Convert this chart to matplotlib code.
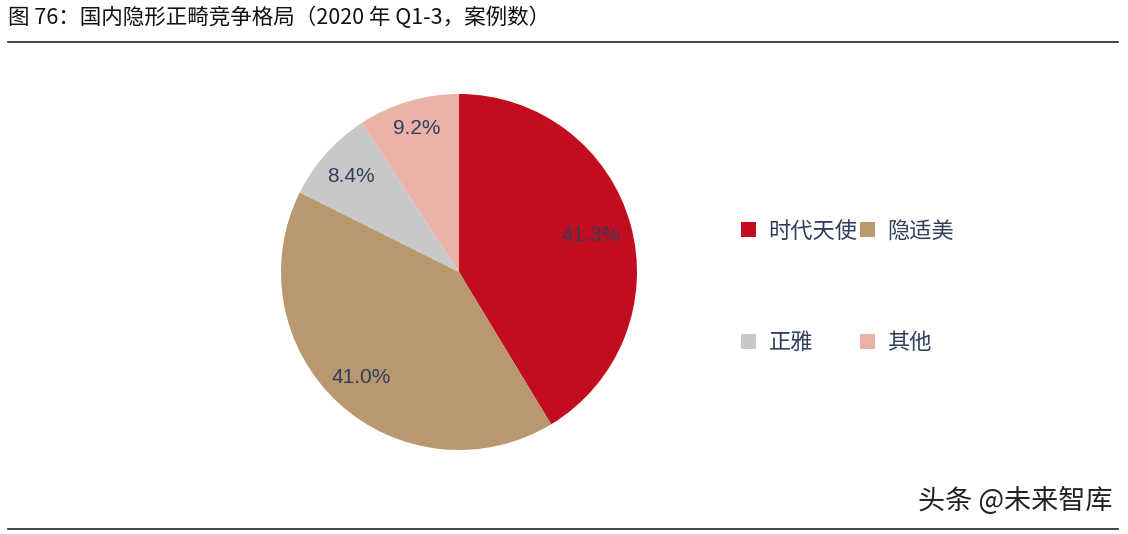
import matplotlib
matplotlib.use("Agg")
import matplotlib.pyplot as plt
import numpy as np
from matplotlib.lines import Line2D
from matplotlib.patches import Patch

plt.rcParams['font.family'] = ['Noto Sans CJK SC', 'DejaVu Sans']

# ── data ───────────────────────────────────────────────────────────────────────
TITLE = "图 76：国内隐形正畸竞争格局（2020 年 Q1-3，案例数）"
brands = ["时代天使", "隐适美", "正雅", "其他"]
shares = [41.3, 41.0, 8.4, 9.2]
colors = ["#C10D1D", "#B9986F", "#C8C8C8", "#EBB3A7"]
LABEL_COLOR = "#2E3E5C"

W, H = 1128, 534
fig = plt.figure(figsize=(W / 100, H / 100), dpi=100)

# ── pie ────────────────────────────────────────────────────────────────────────
cx, cy, r = 459, 272, 178
ax = fig.add_axes([(cx - r) / W, (H - cy - r) / H, 2 * r / W, 2 * r / H])
wedges, _ = ax.pie(shares, colors=colors, startangle=90, counterclock=False,
                   radius=1.0, wedgeprops=dict(linewidth=0))
ax.set_xlim(-1, 1)
ax.set_ylim(-1, 1)
ax.set_aspect("equal")
ax.axis("off")

# percentage labels inside each slice
start = 90.0
total = sum(shares)
dists = [0.77, 0.81, 0.81, 0.84]
for v, d in zip(shares, dists):
    span = 360.0 * v / total
    mid = np.deg2rad(start - span / 2)
    start -= span
    ax.text(d * np.cos(mid), d * np.sin(mid), f"{v:.1f}%", ha="center",
            va="center", fontsize=15, color=LABEL_COLOR, family="Liberation Sans")

# ── legend ─────────────────────────────────────────────────────────────────────
handles = [Patch(facecolor=c, edgecolor="none") for c in colors]
# ncol=2 fills column-major: col1 = 时代天使, 正雅 ; col2 = 隐适美, 其他
order = [0, 2, 1, 3]
fig.legend([handles[i] for i in order], [brands[i] for i in order],
           ncol=2, loc="center left", bbox_to_anchor=(721 / W, 1 - 287 / H),
           frameon=False, fontsize=16, labelcolor=LABEL_COLOR,
           handlelength=0.68, handleheight=0.68, handletextpad=0.55,
           columnspacing=0.1, labelspacing=4.0)

# ── title, rules, watermark ────────────────────────────────────────────────────
fig.text(8 / W, 1 - 18 / H, TITLE, ha="left", va="center", fontsize=15.5,
         color="#111111")
fig.add_artist(Line2D([8 / W, 1118 / W], [1 - 42 / H, 1 - 42 / H],
                      color="#222222", linewidth=1.2))
fig.add_artist(Line2D([8 / W, 1118 / W], [1 - 529 / H, 1 - 529 / H],
                      color="#222222", linewidth=1.2))
fig.text(1112 / W, 1 - 501 / H, "头条 @未来智库", ha="right", va="center",
         fontsize=19.5, color="#222222")

fig.savefig("out.png", dpi=100)
